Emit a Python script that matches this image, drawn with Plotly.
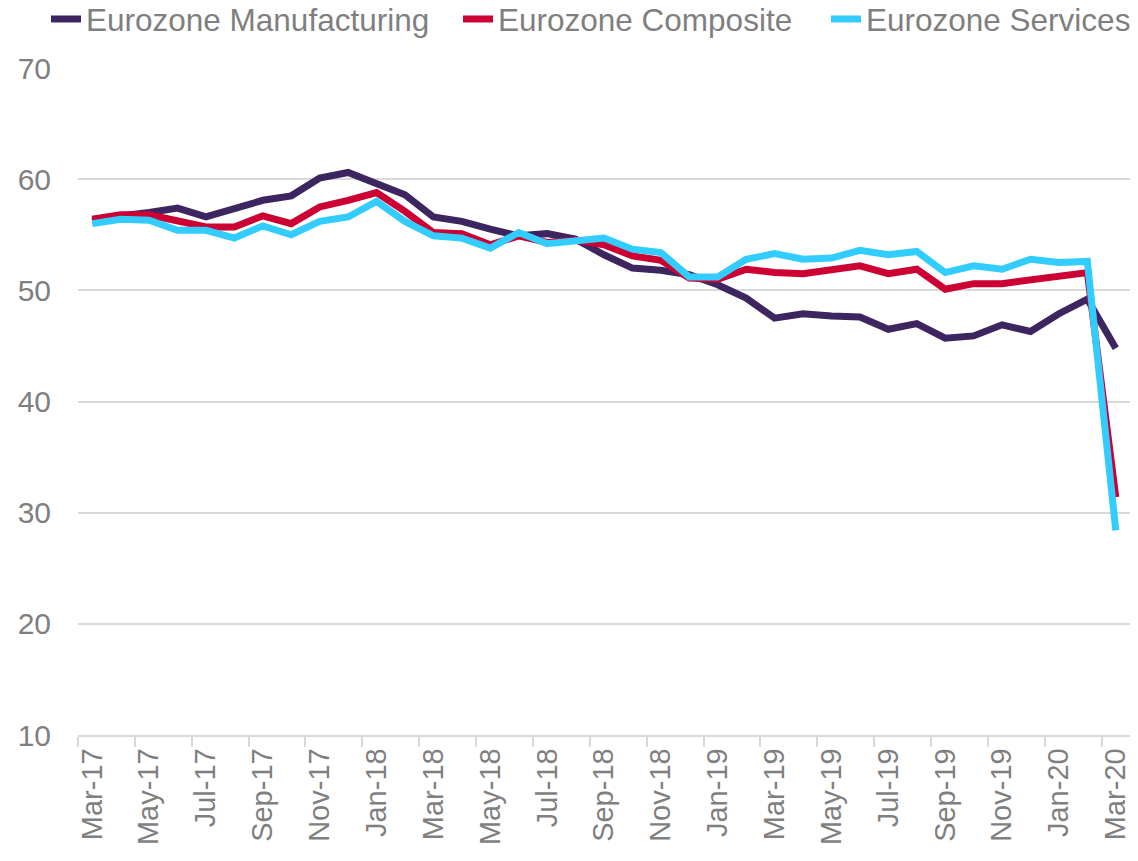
import plotly.graph_objects as go

months = ["Mar-17", "Apr-17", "May-17", "Jun-17", "Jul-17", "Aug-17", "Sep-17", "Oct-17",
          "Nov-17", "Dec-17", "Jan-18", "Feb-18", "Mar-18", "Apr-18", "May-18", "Jun-18",
          "Jul-18", "Aug-18", "Sep-18", "Oct-18", "Nov-18", "Dec-18", "Jan-19", "Feb-19",
          "Mar-19", "Apr-19", "May-19", "Jun-19", "Jul-19", "Aug-19", "Sep-19", "Oct-19",
          "Nov-19", "Dec-19", "Jan-20", "Feb-20", "Mar-20"]

manufacturing = [56.2, 56.7, 57.0, 57.4, 56.6, 57.4, 58.1, 58.5, 60.1, 60.6, 59.6, 58.6,
                 56.6, 56.2, 55.5, 54.9, 55.1, 54.6, 53.2, 52.0, 51.8, 51.4, 50.5, 49.3,
                 47.5, 47.9, 47.7, 47.6, 46.5, 47.0, 45.7, 45.9, 46.9, 46.3, 47.9, 49.2, 44.8]

composite = [56.4, 56.8, 56.8, 56.3, 55.7, 55.7, 56.7, 56.0, 57.5, 58.1, 58.8, 57.1,
             55.2, 55.1, 54.1, 54.9, 54.3, 54.5, 54.1, 53.1, 52.7, 51.1, 51.0, 51.9,
             51.6, 51.5, 51.8, 52.2, 51.5, 51.9, 50.1, 50.6, 50.6, 50.9, 51.3, 51.6, 31.4]

services = [56.0, 56.4, 56.3, 55.4, 55.4, 54.7, 55.8, 55.0, 56.2, 56.6, 58.0, 56.2,
            54.9, 54.7, 53.8, 55.2, 54.2, 54.4, 54.7, 53.7, 53.4, 51.2, 51.2, 52.8,
            53.3, 52.8, 52.9, 53.6, 53.2, 53.5, 51.6, 52.2, 51.9, 52.8, 52.5, 52.6, 28.4]

series_names = ["Eurozone Manufacturing", "Eurozone Composite", "Eurozone Services"]
series_colors = ["#3d2660", "#cc0033", "#33ccff"]
y_ticks = [10, 20, 30, 40, 50, 60, 70]

FONT = "Liberation Sans, Arial, sans-serif"
GREY = "#7f7f7f"

fig = go.Figure()
for name, vals, col, lg in zip(series_names, [manufacturing, composite, services],
                               series_colors, ["legend", "legend2", "legend3"]):
    fig.add_trace(go.Scatter(x=months, y=vals, mode="lines", name=name, showlegend=True,
                             line=dict(color=col, width=7), legend=lg))

leg_common = dict(orientation="h", xref="container", yref="container", y=1.0 - 19 / 861,
                  yanchor="middle", xanchor="left", bgcolor="rgba(0,0,0,0)",
                  font=dict(family=FONT, size=31.5, color=GREY))

fig.update_layout(
    width=1138, height=861, showlegend=True,
    margin=dict(l=78, r=8, t=68, b=126),
    paper_bgcolor="white", plot_bgcolor="white",
    font=dict(family=FONT, size=30, color=GREY),
    legend=dict(x=(88 - 42) / 1138, **leg_common),
    legend2=dict(x=(500 - 42) / 1138, **leg_common),
    legend3=dict(x=(868 - 42) / 1138, **leg_common),
    xaxis=dict(type="category", range=[-0.5, len(months) - 0.5], dtick=2, tick0=0,
               tickson="boundaries", ticks="outside", ticklen=10, tickcolor="#d9d9d9",
               tickwidth=1.5, tickangle=-90, showgrid=False, showline=True,
               linecolor="#d9d9d9", linewidth=1.5, automargin=False,
               tickfont=dict(family=FONT, size=29, color=GREY)),
    yaxis=dict(range=[10, 70], tickvals=y_ticks, showgrid=True, gridcolor="#d9d9d9",
               gridwidth=1.5, zeroline=False, showline=False, ticks="",
               ticklabelstandoff=26, automargin=False,
               tickfont=dict(family=FONT, size=30, color=GREY)),
)

fig.write_html("out.html", config={"displayModeBar": False},
               post_script="document.body.style.margin='0';")
